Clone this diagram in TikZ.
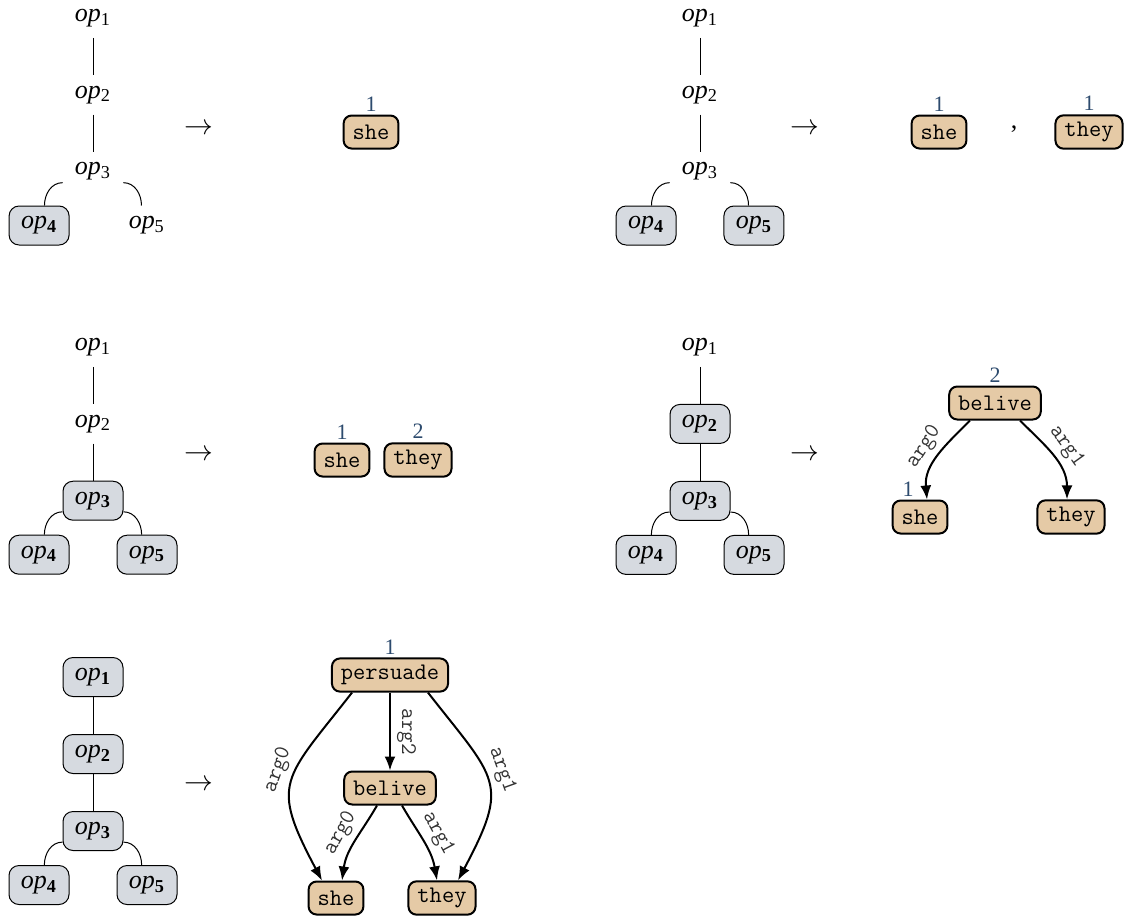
\documentclass[tikz,border=0pt]{standalone}
\usepackage{fontspec}
\setmainfont{Liberation Serif}
\usetikzlibrary{positioning}
\usetikzlibrary{arrows.meta}

\definecolor{conceptfill}{RGB}{229,202,166}
\definecolor{opfill}{RGB}{214,218,224}
\definecolor{numblue}{RGB}{45,75,110}

\newcommand{\opname}[1]{\textit{op}\textsubscript{\opdigit{#1}}}

% operator tree: prefix, x, y, then the styles of op1 ... op5
\newcommand{\optree}[8]{%
  \node[#4] (#1-1) at (#2,#3) {\opname{1}};
  \node[#5, below=18.5pt of #1-1] (#1-2) {\opname{2}};
  \node[#6, below=18.5pt of #1-2] (#1-3) {\opname{3}};
  \node[#7, below left=7pt and -3.5pt of #1-3] (#1-4) {\opname{4}};
  \node[#8, below right=7pt and -3.5pt of #1-3] (#1-5) {\opname{5}};
  \draw[tree] (#1-1) -- (#1-2);
  \draw[tree] (#1-2) -- (#1-3);
  \draw[tree] (#1-3.200) to[out=180, in=90] (#1-4.75);
  \draw[tree] (#1-3.340) to[out=0, in=90] (#1-5.105);
}

\begin{document}
\begin{tikzpicture}[x=0.5pt, y=0.5pt]
  \tikzstyle{op}=[
      rectangle, rounded corners = 5pt
    , minimum width = 30pt, minimum height = 19.5pt, inner sep = 1pt
    , font = \fontsize{13}{14}\selectfont
    , execute at begin node = {\let\opdigit\relax}
    ]
  \tikzstyle{opbox}=[
      op, draw = black, fill = opfill, line width = 0.5pt
    , execute at begin node = {\let\opdigit\textbf}
    ]
  \tikzstyle{tree}=[line width = 0.5pt]
  \tikzstyle{concept}=[
      rectangle, rounded corners = 4pt, draw = black, line width = 1pt
    , fill = conceptfill, minimum height = 16.5pt, inner xsep = 4.5pt
    , font = \ttfamily\fontsize{11.9}{13}\selectfont
    ]
  \tikzstyle{num}=[text = numblue, inner sep = 1.5pt, font = \fontsize{11}{12}\selectfont]
  \tikzstyle{role}=[sloped, inner sep = 3pt, text = black!80, font = \ttfamily\fontsize{11.2}{12}\selectfont]
  \tikzstyle{connect}=[-{Latex[length=7pt, width=5.5pt]}, line width = 1pt]
  \tikzstyle{maps}=[font = \fontsize{15}{16}\selectfont]

  \useasboundingbox (0,0) rectangle (1125,-917);

  % trees
  \optree{a}{93}{-18}{op}{op}{op}{opbox}{op}
  \optree{b}{700}{-18}{op}{op}{op}{opbox}{opbox}
  \optree{c}{93}{-347}{op}{op}{opbox}{opbox}{opbox}
  \optree{d}{700}{-347}{op}{opbox}{opbox}{opbox}{opbox}
  \optree{e}{93}{-677}{opbox}{opbox}{opbox}{opbox}{opbox}

  % arrows
  \node[maps] (m1) at (199,-129) {$\rightarrow$};
  \node[maps] (m2) at (805,-129) {$\rightarrow$};
  \node[maps] (m3) at (199,-455) {$\rightarrow$};
  \node[maps] (m4) at (805,-455) {$\rightarrow$};
  \node[maps] (m5) at (199,-785) {$\rightarrow$};

  % first row
  \node[concept, label={[num]above:1}] (she1) at (371,-132) {she};
  \node[concept, label={[num]above:1}] (she2) at (939,-132) {she};
  \node[font = \fontsize{13}{14}\selectfont] (comma) at (1014,-129) {,};
  \node[concept, label={[num]above:1}] (they2) at (1089,-132) {they};

  % second row
  \node[concept, label={[num]above:1}] (she3) at (342,-460) {she};
  \node[concept, label={[num]above:2}] (they3) at (418,-460) {they};

  \node[concept, label={[num]above:2}] (bel4) at (995,-403) {belive};
  \node[concept, label={[num, xshift=-6pt]above:1}] (she4) at (920,-517) {she};
  \node[concept] (they4) at (1071,-517) {they};
  \draw[connect] ([xshift=-12.5pt]bel4.south) to[out=225, in=95]
    node[role, midway, above] {arg0} ([xshift=3.5pt]she4.north);
  \draw[connect] ([xshift=12.5pt]bel4.south) to[out=-45, in=90]
    node[role, midway, above] {arg1} ([xshift=-2pt]they4.north);

  % third row
  \node[concept, label={[num]above:1}] (per5) at (390,-675) {persuade};
  \node[concept] (bel5) at (390,-788) {belive};
  \node[concept] (she5) at (336,-898) {she};
  \node[concept] (they5) at (442,-898) {they};
  \draw[connect] (per5) -- node[role, midway, above] {arg2} (bel5);
  \draw[connect] ([xshift=-19pt]per5.south) to[out=232, in=118, looseness=1.5]
    node[role, pos=0.45, above] {arg0} ([xshift=-7pt]she5.north);
  \draw[connect] ([xshift=19pt]per5.south) to[out=-52, in=62, looseness=1.5]
    node[role, pos=0.45, above] {arg1} ([xshift=8pt]they5.north);
  \draw[connect] ([xshift=-6.5pt]bel5.south) to[out=240, in=82]
    node[role, midway, above] {arg0} ([xshift=3pt]she5.north);
  \draw[connect] ([xshift=6pt]bel5.south) to[out=-60, in=100]
    node[role, midway, above] {arg1} ([xshift=-2.5pt]they5.north);

\end{tikzpicture}
\end{document}
